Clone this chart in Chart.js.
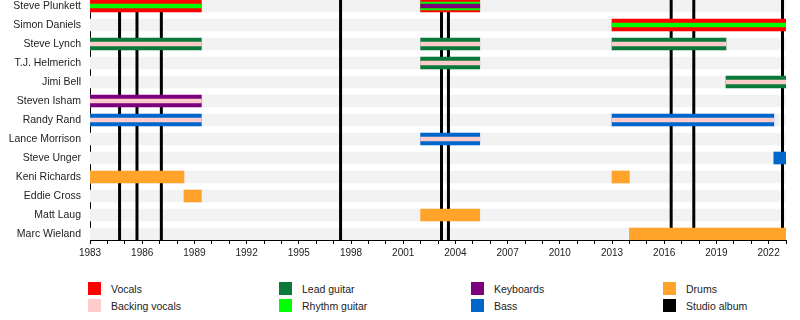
<!DOCTYPE html>
<html>
<head>
<meta charset="utf-8">
<script src="https://cdn.jsdelivr.net/npm/chart.js@4.4.1/dist/chart.umd.min.js"></script>
<style>
  body { margin: 0; width: 800px; height: 320px; overflow: hidden; background: #fff; position: relative;
         font-family: "Liberation Sans", Arial, sans-serif; }
  #wrap { position: absolute; left: 0; top: 0; width: 800px; height: 264px; }
  .key { position: absolute; height: 13px; font-size: 10.5px; color: #222; line-height: 13px; white-space: nowrap; }
  .key .sw { position: absolute; left: 0; top: 0; width: 13px; height: 13px; }
  .key .tx { position: absolute; left: 23px; top: 1px; }
</style>
</head>
<body>
<div id="wrap"><canvas id="timeline"></canvas></div>
<div id="legend"></div>
<script>
// Band members, top to bottom
const members = ['Steve Plunkett', 'Simon Daniels', 'Steve Lynch', 'T.J. Helmerich', 'Jimi Bell',
  'Steven Isham', 'Randy Rand', 'Lance Morrison', 'Steve Unger', 'Keni Richards',
  'Eddie Cross', 'Matt Laug', 'Marc Wieland'];

// [member, from, to] per role
const vocals = [['Steve Plunkett', 1983, 1989.4], ['Steve Plunkett', 2002, 2005.4], ['Simon Daniels', 2013, 2023]];
const leadGuitar = [['Steve Lynch', 1983, 1989.4], ['Steve Lynch', 2002, 2005.4], ['Steve Lynch', 2013, 2019.55],
  ['T.J. Helmerich', 2002, 2005.4], ['Jimi Bell', 2019.55, 2023]];
const rhythmGuitar = [['Steve Plunkett', 1983, 1989.4], ['Steve Plunkett', 2002, 2005.4], ['Simon Daniels', 2013, 2023]];
const keyboards = [['Steve Plunkett', 2002, 2005.4], ['Steven Isham', 1983, 1989.4]];
const bass = [['Randy Rand', 1983, 1989.4], ['Randy Rand', 2013, 2022.3], ['Lance Morrison', 2002, 2005.4],
  ['Steve Unger', 2022.3, 2023]];
const drums = [['Keni Richards', 1983, 1988.4], ['Keni Richards', 2013, 2014], ['Eddie Cross', 1988.4, 1989.4],
  ['Matt Laug', 2002, 2005.4], ['Marc Wieland', 2014, 2023]];
const backingVocals = [['Steve Lynch', 1983, 1989.4], ['Steve Lynch', 2002, 2005.4], ['Steve Lynch', 2013, 2019.55],
  ['T.J. Helmerich', 2002, 2005.4], ['Jimi Bell', 2019.55, 2023], ['Steven Isham', 1983, 1989.4],
  ['Randy Rand', 1983, 1989.4], ['Randy Rand', 2013, 2022.3], ['Lance Morrison', 2002, 2005.4]];

// Studio album releases
const albumYears = [1984.7, 1985.7, 1987.1, 1997.4, 2003.2, 2003.6, 2016.4, 2017.7, 2022.8];

// Axis
const yearStart = 1983;
const yearEnd = 2023;
const yearLabels = [1983, 1986, 1989, 1992, 1995, 1998, 2001, 2004, 2007, 2010, 2013, 2016, 2019, 2022];

// outer -> inner drawing order of the stripes
const roles = [
  { name: 'Vocals', color: '#ff0000', spans: vocals },
  { name: 'Lead guitar', color: '#0a7a3a', spans: leadGuitar },
  { name: 'Rhythm guitar', color: '#00ff00', spans: rhythmGuitar },
  { name: 'Keyboards', color: '#7d007d', spans: keyboards },
  { name: 'Bass', color: '#0066cc', spans: bass },
  { name: 'Drums', color: '#ffa32b', spans: drums },
  { name: 'Backing vocals', color: '#ffcccc', spans: backingVocals },
];
const legendOrder = ['Vocals', 'Backing vocals', 'Lead guitar', 'Rhythm guitar', 'Keyboards', 'Bass', 'Drums', 'Studio album'];

Chart.defaults.font.family = '"Liberation Sans", Arial, sans-serif';
Chart.defaults.font.size = 10.5;
Chart.defaults.color = '#222';

// how many roles share the same period -> stripe thickness
function thicknessFor(roleIdx, member, from) {
  const sharing = [];
  roles.forEach((r, i) => {
    if (r.spans.some(s => s[0] === member && s[1] === from)) sharing.push(i);
  });
  const k = sharing.indexOf(roleIdx);
  const n = sharing.length;
  if (n === 1 || k === 0) return 12;
  if (k === n - 1) return 4;
  return 8;
}

const datasets = [{
  label: 'background',
  data: members.map((m, i) => ({ y: i, x: [yearStart, yearEnd] })),
  backgroundColor: '#f2f2f2',
  barThickness: 12,
  grouped: false,
  order: 50,
}];

roles.forEach((r, ri) => {
  const groups = {};
  r.spans.forEach(s => {
    const t = thicknessFor(ri, s[0], s[1]);
    if (!groups[t]) groups[t] = [];
    groups[t].push({ y: members.indexOf(s[0]), x: [s[1], s[2]] });
  });
  Object.keys(groups).forEach(t => {
    datasets.push({
      label: r.name,
      data: groups[t],
      backgroundColor: r.color,
      barThickness: Number(t),
      grouped: false,
      order: Number(t),
    });
  });
});

// album lines go over the grey rows, under the member bars
const albumLines = {
  id: 'albumLines',
  afterDatasetDraw(chart, args) {
    if (args.index !== 0) return;
    const { ctx, chartArea, scales: { x } } = chart;
    ctx.save();
    ctx.strokeStyle = '#000';
    ctx.lineWidth = 3;
    albumYears.forEach(yr => {
      const px = x.getPixelForValue(yr);
      ctx.beginPath();
      ctx.moveTo(px, chartArea.top);
      ctx.lineTo(px, chartArea.bottom);
      ctx.stroke();
    });
    ctx.restore();
  }
};

const pad = 6 / 19;

new Chart(document.getElementById('timeline'), {
  type: 'bar',
  data: { datasets },
  plugins: [albumLines],
  options: {
    indexAxis: 'y',
    responsive: true,
    maintainAspectRatio: false,
    animation: false,
    layout: { padding: { top: 0, right: 14, bottom: 0, left: 0 } },
    plugins: {
      legend: { display: false },
      tooltip: { enabled: false },
    },
    scales: {
      x: {
        type: 'linear',
        min: yearStart,
        max: yearEnd,
        afterBuildTicks: s => {
          const t = [];
          for (let y = yearStart; y <= yearEnd; y++) t.push({ value: y });
          s.ticks = t;
        },
        ticks: {
          autoSkip: false,
          maxRotation: 0,
          padding: 3,
          font: { size: 10 },
          callback: v => yearLabels.includes(v) ? String(v) : '',
        },
        grid: { drawOnChartArea: false, drawTicks: true, tickLength: 4, color: '#000' },
        border: { color: '#000', width: 1 },
        afterFit: s => { s.height = 24; s.paddingLeft = 0; s.paddingRight = 0; },
      },
      y: {
        type: 'linear',
        reverse: true,
        offset: false,
        min: -pad,
        max: members.length - 1 + pad,
        afterBuildTicks: s => { s.ticks = members.map((m, i) => ({ value: i })); },
        ticks: {
          autoSkip: false,
          padding: 9,
          callback: v => members[v],
        },
        grid: { display: false, drawTicks: false },
        border: { color: '#000', width: 1 },
        afterFit: s => { s.width = 90; s.paddingTop = 0; s.paddingBottom = 0; },
      },
    },
  },
});

// legend, filled column by column
const colorOf = name => name === 'Studio album' ? '#000' : roles.find(r => r.name === name).color;
const legend = document.getElementById('legend');
const colLeft = [88, 279, 471, 663];
const rowTop = [282, 299];
legendOrder.forEach((name, i) => {
  const el = document.createElement('div');
  el.className = 'key';
  el.style.left = colLeft[Math.floor(i / 2)] + 'px';
  el.style.top = rowTop[i % 2] + 'px';
  el.innerHTML = '<span class="sw" style="background:' + colorOf(name) + '"></span><span class="tx">' + name + '</span>';
  legend.appendChild(el);
});
</script>
</body>
</html>
